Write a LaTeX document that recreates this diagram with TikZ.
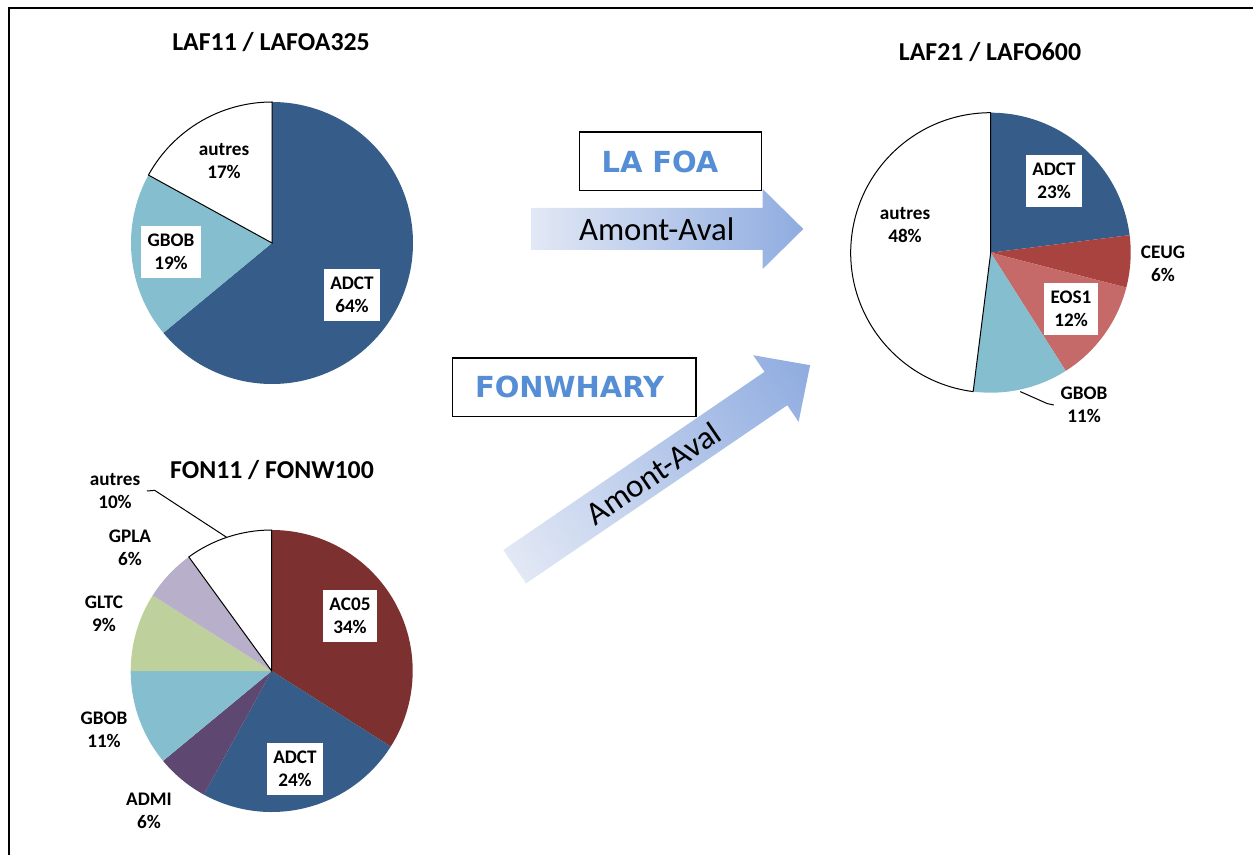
\documentclass[tikz,border=0pt]{standalone}
\usepackage{fontspec}
\setmainfont{Carlito}
\newfontfamily\boxfont{DejaVu Sans}
\definecolor{adct}{RGB}{54,93,137}
\definecolor{gbob}{RGB}{132,190,207}
\definecolor{ac05}{RGB}{124,49,48}
\definecolor{ceug}{RGB}{168,67,64}
\definecolor{eos1}{RGB}{197,106,104}
\definecolor{admi}{RGB}{94,72,113}
\definecolor{gltc}{RGB}{190,209,157}
\definecolor{gpla}{RGB}{184,175,203}
\definecolor{foablue}{RGB}{85,142,213}
\definecolor{flowlight}{RGB}{226,232,245}
\definecolor{flowdark}{RGB}{143,172,224}
\begin{document}
\begin{tikzpicture}[x=0.5pt,y=-0.5pt,
    title/.style={font=\bfseries\fontsize{12.9}{15}\selectfont},
    lbl/.style={align=center,inner xsep=3.2pt,inner ysep=4pt,font=\bfseries\fontsize{9.6}{11.7}\selectfont},
    lblbox/.style={lbl,fill=white},
    outline/.style={draw=black,line width=0.5pt},
    leader/.style={draw=black,line width=0.5pt},
    namebox/.style={draw=black,line width=0.7pt,align=left,minimum height=29.3pt,inner xsep=11.2pt,text=foablue,font=\boxfont\bfseries\fontsize{14.5}{17}\selectfont},
    flowtext/.style={font=\fontsize{16.4}{19}\selectfont}]
  \useasboundingbox (0,0) rectangle (1253,855);
  \draw[line width=1pt] (1253,8) -- (9,8) -- (9,855);

  % LAF11 / LAFOA325
  \begin{scope}[shift={(272,243)},yscale=-1]
    \fill[adct] (0,0) -- (90:141) arc[start angle=90,end angle=-140.4,radius=141] -- cycle;
    \fill[gbob] (0,0) -- (-140.4:141) arc[start angle=-140.4,end angle=-208.8,radius=141] -- cycle;
    \filldraw[fill=white,outline] (0,0) -- (-208.8:141) arc[start angle=-208.8,end angle=-270,radius=141] -- cycle;
  \end{scope}
  \node[title] (laftitle) at (271,42) {LAF11 / LAFOA325};
  \node[lbl] (lafautres) at (224,161) {autres\\17\%};
  \node[lblbox] (lafGBOB) at (171,252) {GBOB\\19\%};
  \node[lblbox] (lafADCT) at (352,295) {ADCT\\64\%};

  % LAF21 / LAFO600
  \begin{scope}[shift={(990.7,252.7)},yscale=-1]
    \fill[adct] (0,0) -- (90:140) arc[start angle=90,end angle=7.2,radius=140] -- cycle;
    \fill[ceug] (0,0) -- (7.2:140) arc[start angle=7.2,end angle=-14.4,radius=140] -- cycle;
    \fill[eos1] (0,0) -- (-14.4:140) arc[start angle=-14.4,end angle=-57.6,radius=140] -- cycle;
    \fill[gbob] (0,0) -- (-57.6:140) arc[start angle=-57.6,end angle=-97.2,radius=140] -- cycle;
    \filldraw[fill=white,outline] (0,0) -- (-97.2:140) arc[start angle=-97.2,end angle=-270,radius=140] -- cycle;
    \coordinate (laf21GBOBtip) at (-78:142);
  \end{scope}
  \node[title] (laf21title) at (990,52) {LAF21 / LAFO600};
  \node[lblbox] (laf21ADCT) at (1054,181) {ADCT\\23\%};
  \node[lbl] (laf21CEUG) at (1163,264) {CEUG\\6\%};
  \node[lblbox] (laf21EOS1) at (1071,309) {EOS1\\12\%};
  \node[lbl] (laf21GBOB) at (1084,405) {GBOB\\11\%};
  \node[lbl] (laf21autres) at (905,225) {autres\\48\%};
  \draw[leader] (laf21GBOBtip) -- ++(27,12) -- (laf21GBOB.west);

  % FON11 / FONW100
  \begin{scope}[shift={(271.7,671)},yscale=-1]
    \fill[ac05] (0,0) -- (90:141) arc[start angle=90,end angle=-32.4,radius=141] -- cycle;
    \fill[adct] (0,0) -- (-32.4:141) arc[start angle=-32.4,end angle=-118.8,radius=141] -- cycle;
    \fill[admi] (0,0) -- (-118.8:141) arc[start angle=-118.8,end angle=-140.4,radius=141] -- cycle;
    \fill[gbob] (0,0) -- (-140.4:141) arc[start angle=-140.4,end angle=-180,radius=141] -- cycle;
    \fill[gltc] (0,0) -- (-180:141) arc[start angle=-180,end angle=-212.4,radius=141] -- cycle;
    \fill[gpla] (0,0) -- (-212.4:141) arc[start angle=-212.4,end angle=-234,radius=141] -- cycle;
    \filldraw[fill=white,outline] (0,0) -- (-234:141) arc[start angle=-234,end angle=-270,radius=141] -- cycle;
    \coordinate (fonautrestip) at (108.6:141);
  \end{scope}
  \node[title] (fontitle) at (272,470) {FON11 / FONW100};
  \node[lblbox] (fonAC05) at (350,616) {AC05\\34\%};
  \node[lblbox] (fonADCT) at (295,769) {ADCT\\24\%};
  \node[lbl] (fonADMI) at (149,811) {ADMI\\6\%};
  \node[lbl] (fonGBOB) at (104,730) {GBOB\\11\%};
  \node[lbl] (fonGLTC) at (104,614) {GLTC\\9\%};
  \node[lbl] (fonGPLA) at (130,548) {GPLA\\6\%};
  \node[lbl] (fonautres) at (115,491) {autres\\10\%};
  \draw[leader] (fonautrestip) -- ++(-72,-47) -- (fonautres.east);

  % flows
  \begin{scope}[shift={(531.7,229)}]
    \shade[left color=flowlight,right color=flowdark] (0,-21) -- (231,-21) -- (231,-40) -- (271.6,0) -- (231,40) -- (231,21) -- (0,21) -- cycle;
    \node[flowtext] (foaflow) at (125,0) {Amont-Aval};
  \end{scope}
  \begin{scope}[transform canvas={shift={(514.7,566.7)},rotate=34.3}]
    \shade[left color=flowlight,right color=flowdark] (0,-20.2) -- (316.2,-20.2) -- (316.2,-40.3) -- (357.6,0) -- (316.2,40.3) -- (316.2,20.2) -- (0,20.2) -- cycle;
  \end{scope}
  \node[flowtext,rotate=34.3] (fonflow) at (653.3,473.3) {Amont-Aval};
  \node[namebox,text width=68.8pt] (foabox) at (670.5,161.5) {LA FOA};
  \node[namebox,text width=99.2pt] (fonbox) at (574.2,387.3) {FONWHARY};
\end{tikzpicture}
\end{document}
